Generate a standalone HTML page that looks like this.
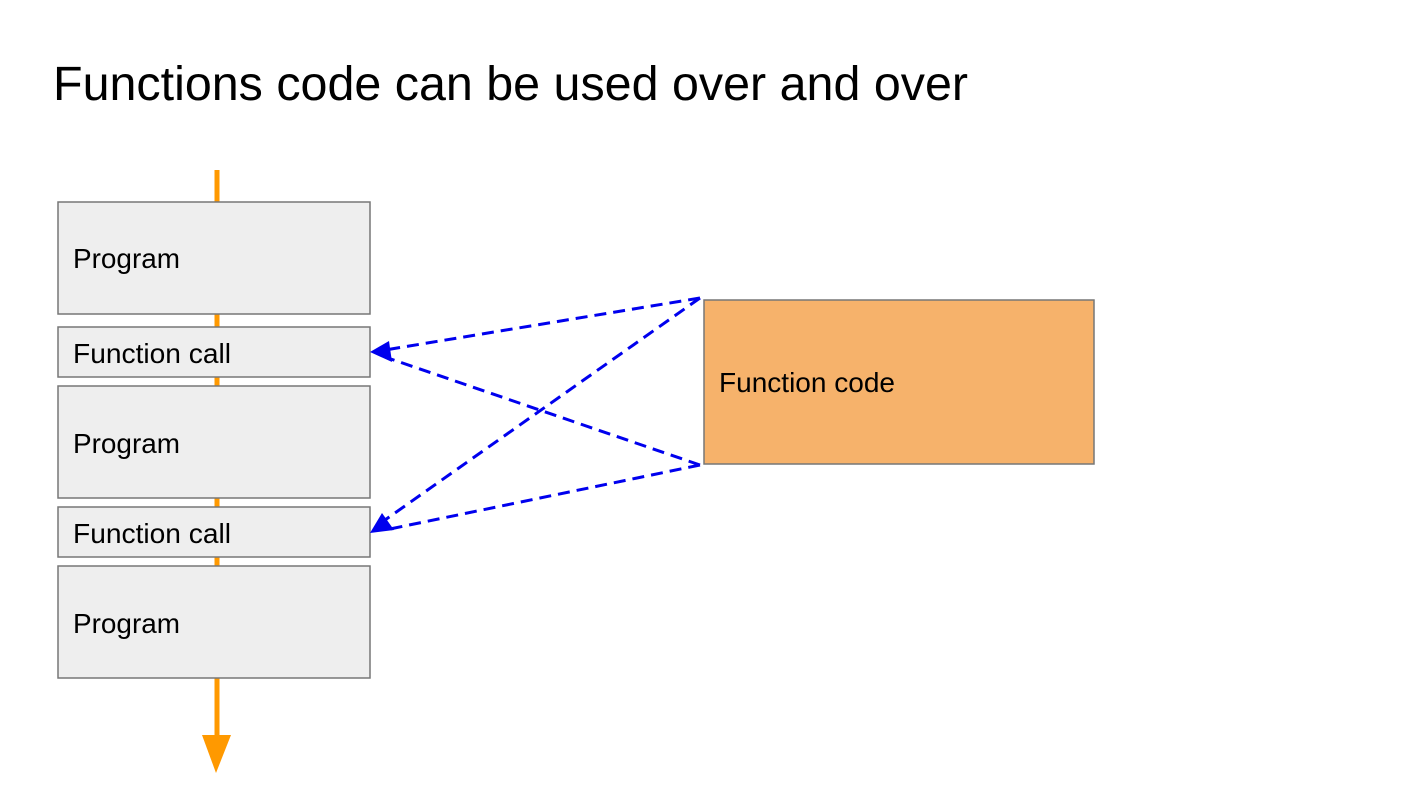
<!DOCTYPE html>
<html><head><meta charset="utf-8"><style>html,body{margin:0;padding:0;background:#fff}svg{display:block}.l{font-size:28px;fill:#000}</style></head>
<body>
<svg width="1426" height="804" viewBox="0 0 1426 804" xmlns="http://www.w3.org/2000/svg" font-family="Liberation Sans, Arial, sans-serif">
<rect width="1426" height="804" fill="#fff"/>
<text x="53" y="100" font-size="48" textLength="915" lengthAdjust="spacingAndGlyphs" fill="#000">Functions code can be used over and over</text>
<line x1="217" y1="170" x2="217" y2="738" stroke="#ff9900" stroke-width="5"/>
<polygon points="202,735 231,735 216,773" fill="#ff9900"/>
<g fill="#eeeeee" stroke="#777" stroke-width="1.5">
<rect x="58" y="202" width="312" height="112"/>
<rect x="58" y="327" width="312" height="50"/>
<rect x="58" y="386" width="312" height="112"/>
<rect x="58" y="507" width="312" height="50"/>
<rect x="58" y="566" width="312" height="112"/>
</g>
<rect x="704" y="300" width="390" height="164" fill="#f6b26b" stroke="#777" stroke-width="1.5"/>
<text class="l" x="73" y="268" textLength="107" lengthAdjust="spacingAndGlyphs">Program</text>
<text class="l" x="73" y="363" textLength="158" lengthAdjust="spacingAndGlyphs">Function call</text>
<text class="l" x="73" y="453" textLength="107" lengthAdjust="spacingAndGlyphs">Program</text>
<text class="l" x="73" y="543" textLength="158" lengthAdjust="spacingAndGlyphs">Function call</text>
<text class="l" x="73" y="633" textLength="107" lengthAdjust="spacingAndGlyphs">Program</text>
<text class="l" x="719" y="392" textLength="176" lengthAdjust="spacingAndGlyphs">Function code</text>
<g stroke="#0000ee" stroke-width="3" stroke-dasharray="12,7" fill="none">
<line x1="700" y1="298" x2="385" y2="350"/>
<line x1="700" y1="298" x2="385" y2="520"/>
<line x1="700" y1="465" x2="385" y2="357"/>
<line x1="700" y1="465" x2="385" y2="530"/>
</g>
<g fill="#0000ee">
<polygon points="370,352 389,341 392,362"/>
<polygon points="370,533 382,513 394,530"/>
</g>
</svg>
</body></html>
